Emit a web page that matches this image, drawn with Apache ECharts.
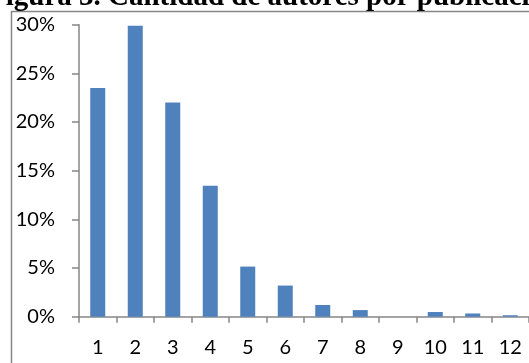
<!DOCTYPE html>
<html>
<head>
<meta charset="utf-8">
<script src="https://cdn.jsdelivr.net/npm/echarts@6/dist/echarts.min.js"></script>
<style>
  html, body { margin: 0; padding: 0; background: #fff; }
  #chart { width: 529px; height: 363px; }
</style>
</head>
<body>
<div id="chart"></div>
<script>
  // autores por publicación
  const categories = ["1", "2", "3", "4", "5", "6", "7", "8", "9", "10", "11", "12"]
  const shares = [23.5, 29.9, 22.0, 13.45, 5.15, 3.2, 1.2, 0.68, 0, 0.48, 0.33, 0.15]
  const yTicks = [0, 5, 10, 15, 20, 25, 30]

  const axisGray = "#868686"
  const chart = echarts.init(document.getElementById("chart"))

  const option = {
    animation: false,
    title: {
      text: "Figura 3. Cantidad de autores por publicación",
      left: -17,
      top: -22,
      textStyle: {
        fontFamily: "Liberation Serif",
        fontWeight: "bold",
        fontSize: 29,
        color: "#000",
      },
    },
    graphic: [
      {
        type: "rect",
        shape: { x: 11.5, y: 11.5, width: 600, height: 600 },
        style: { fill: "none", stroke: axisGray, lineWidth: 1.5 },
        z: -1,
      },
    ],
    grid: {
      left: 79,
      top: 24.7,
      width: 451,
      height: 292,
      containLabel: false,
    },
    xAxis: {
      type: "category",
      data: categories,
      boundaryGap: true,
      axisLine: { lineStyle: { color: axisGray, width: 1.5 } },
      axisTick: { show: true, length: 6, lineStyle: { color: axisGray, width: 1.5 } },
      axisLabel: {
        margin: 21,
        fontFamily: "Lato",
        fontSize: 20,
        color: "#000",
        interval: 0,
      },
    },
    yAxis: {
      type: "value",
      min: yTicks[0],
      max: yTicks[yTicks.length - 1],
      interval: 5,
      axisLine: { show: true, lineStyle: { color: axisGray, width: 1.5 } },
      axisTick: { show: true, length: 7, lineStyle: { color: axisGray, width: 1.5 } },
      splitLine: { show: false },
      axisLabel: {
        margin: 24,
        fontFamily: "Lato",
        fontSize: 20,
        color: "#000",
        formatter: (v) => v + "%",
      },
    },
    series: [
      {
        type: "bar",
        data: shares,
        barWidth: "40%",
        itemStyle: { color: "#4F81BD" },
      },
    ],
  }

  chart.setOption(option)
</script>
</body>
</html>
